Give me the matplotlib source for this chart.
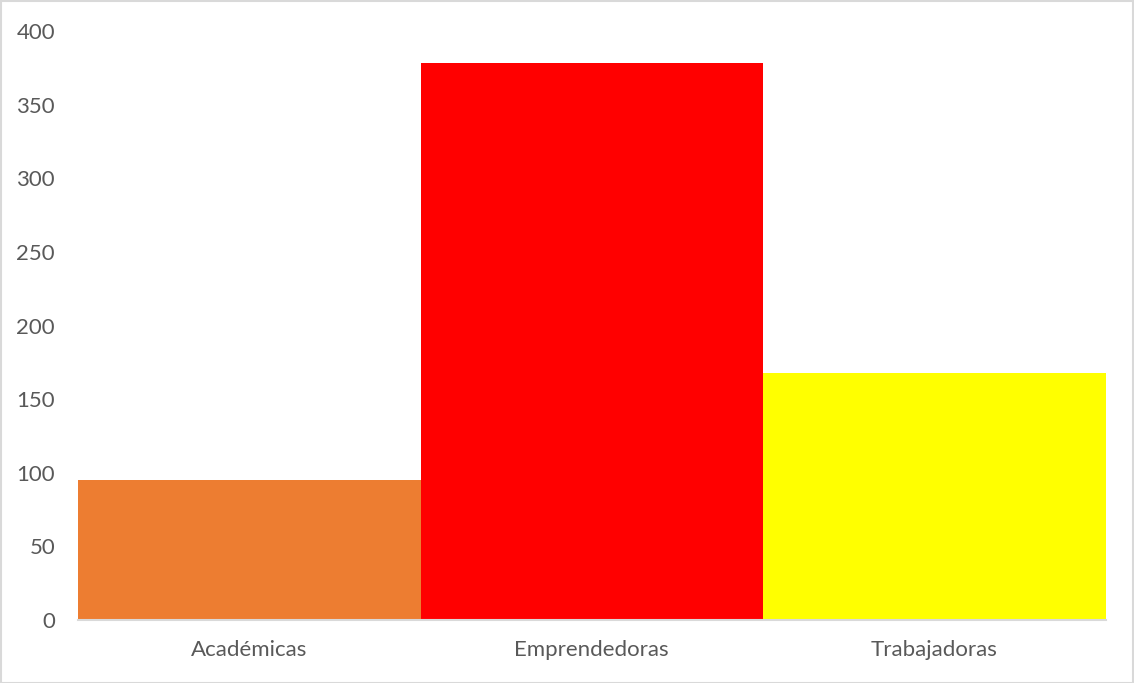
import matplotlib
matplotlib.use("Agg")
import matplotlib.pyplot as plt
from matplotlib.patches import Rectangle

categories = ["Académicas", "Emprendedoras", "Trabajadoras"]
values = [95, 378, 168]
colors = ["#ED7D31", "#FF0000", "#FFFF00"]
yticks = [0, 50, 100, 150, 200, 250, 300, 350, 400]

plt.rcParams['font.family'] = ['Lato', 'DejaVu Sans']

fig = plt.figure(figsize=(11.34, 6.83), dpi=100)
ax = fig.add_axes([78/1134, 1-620/683, (1105.5-78)/1134, (620-31)/683])

ax.bar(range(len(categories)), values, width=1.0, color=colors, zorder=2)

ax.set_xlim(-0.5, len(categories)-0.5)
ax.set_ylim(0, 400)
ax.set_yticks(yticks)
ax.set_xticks(range(len(categories)))
ax.set_xticklabels(categories)

for s in ["top", "right", "left"]:
    ax.spines[s].set_visible(False)
ax.spines["bottom"].set_color("#D9D9D9")
ax.spines["bottom"].set_linewidth(1.5)
ax.spines["bottom"].set_zorder(3)

ax.tick_params(axis="both", length=0, colors="#595959", labelsize=16)
ax.tick_params(axis="y", pad=16.5)
ax.tick_params(axis="x", pad=14.5)

fig.patches.append(Rectangle((0.5/1134, 0.5/683), 1-1.5/1134, 1-1.5/683,
                             transform=fig.transFigure, fill=False,
                             edgecolor="#D9D9D9", linewidth=1.5))

fig.savefig("out.png", dpi=100)
